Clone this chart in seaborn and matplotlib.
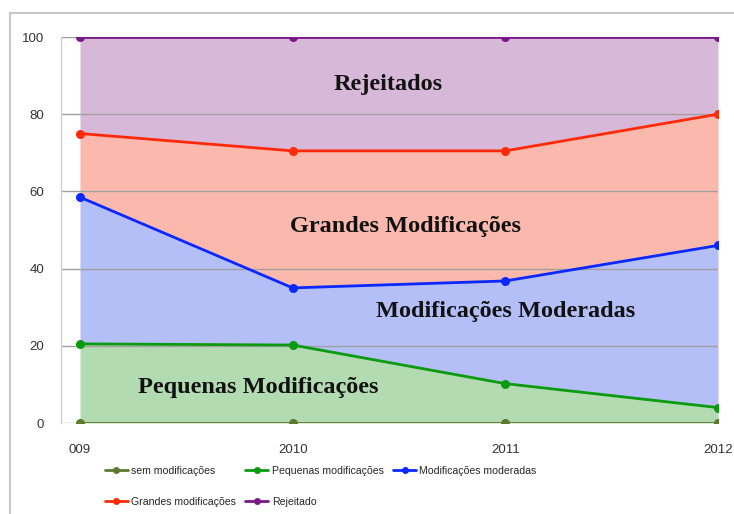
import matplotlib
matplotlib.use("Agg")
import matplotlib.pyplot as plt
import seaborn as sns
import pandas as pd
import numpy as np
from matplotlib.lines import Line2D
from matplotlib.patches import Rectangle

years = [2009, 2010, 2011, 2012]
year_labels = ["009", "2010", "2011", "2012"]
series_names = ["sem modificações", "Pequenas modificações", "Modificações moderadas",
                "Grandes modificações", "Rejeitado"]
# cumulative (stacked) values as drawn
sem = [0, 0, 0, 0]
pequenas = [20.5, 20.2, 10.2, 4.0]
moderadas = [58.5, 35.0, 36.8, 46.0]
grandes = [75.0, 70.5, 70.5, 80.0]
rejeitado = [100, 100, 100, 100]
area_labels = ["Rejeitados", "Grandes Modificações", "Modificações Moderadas", "Pequenas Modificações"]
yticks = [0, 20, 40, 60, 80, 100]
ytick_labels = ["0", "20", "40", "60", "80", "100"]

line_colors = ["#5e7a30", "#0b9a10", "#0a28ff", "#ff2a0a", "#7a1a88"]
fill_colors = ["#b3dbb1", "#b4bff8", "#fbb9ad", "#d8b8d8"]

small_font = "Liberation Sans"

values = [sem, pequenas, moderadas, grandes, rejeitado]
df = pd.DataFrame({
    "ano": np.tile(years, len(series_names)),
    "valor": np.concatenate(values),
    "serie": np.repeat(series_names, len(years)),
})

sns.set_theme(style="white")
fig = plt.figure(figsize=(7.34, 5.14), dpi=100)
ax = fig.add_axes([61/734, 1-423/514, (718-61)/734, (423-37)/514])

for lo, hi, c in zip(values[:-1], values[1:], fill_colors):
    ax.fill_between(years, lo, hi, color=c, linewidth=0, zorder=1)

for yt in yticks:
    ax.axhline(yt, color="#a0a0a0", lw=1.0, zorder=2, xmin=-0.006)

sns.lineplot(data=df, x="ano", y="valor", hue="serie", palette=line_colors,
             hue_order=series_names, marker="o", markersize=6.5, markeredgewidth=0,
             linewidth=2.0, ax=ax, legend=False, zorder=3)

ax.set_xlim(2009 - 19/(638/3), 2012)
ax.set_ylim(0, 100)
ax.set_xticks(years)
ax.set_xticklabels(year_labels)
ax.set_yticks(yticks)
ax.set_yticklabels(ytick_labels)
ax.set_xlabel("")
ax.set_ylabel("")
ax.tick_params(axis="both", labelsize=9.5, colors="#333333", length=0)
ax.tick_params(axis="x", pad=15)
ax.tick_params(axis="y", pad=12)
for t in ax.get_xticklabels() + ax.get_yticklabels():
    t.set_family(small_font)
for s in ["top", "right", "bottom"]:
    ax.spines[s].set_visible(False)
ax.spines["left"].set_color("#d0d0d0")
ax.spines["left"].set_linewidth(1)

tfont = dict(family="Liberation Serif", fontweight="bold", fontsize=17.5, color="#111111",
             ha="center", va="center", zorder=5)
ax.text(2010.45, 87.6, area_labels[0], **tfont)
ax.text(2010.53, 50.8, area_labels[1], **tfont)
ax.text(2011.0, 28.8, area_labels[2], **tfont)
ax.text(2009.84, 9.3, area_labels[3], **tfont)

order = [0, 3, 1, 4, 2]
handles = [Line2D([0], [0], color=line_colors[i], lw=2, marker="o", markersize=5,
                  markeredgewidth=0) for i in order]
labels = [series_names[i] for i in order]
fig.legend(handles, labels, ncol=3, loc="upper left", bbox_to_anchor=(95/734, 1-456/514),
           frameon=False, prop={"family": small_font, "size": 7.6}, handlelength=2.2,
           columnspacing=0.9, handletextpad=0.3, labelspacing=2.0)

fig.patches.append(Rectangle((10/734, -0.05), 1.1, 1.05 - 13/514, transform=fig.transFigure,
                             fill=False, edgecolor="#c8c8c8", lw=1.5, figure=fig))

fig.savefig("out.png", dpi=100)
